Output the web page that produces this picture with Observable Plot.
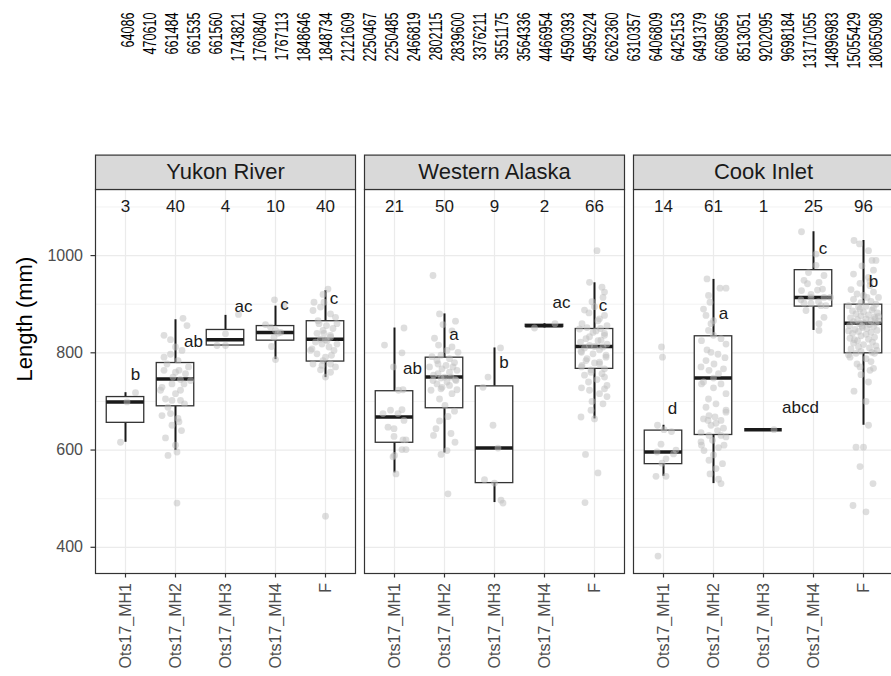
<!DOCTYPE html>
<html><head><meta charset="utf-8">
<script src="https://cdn.jsdelivr.net/npm/d3@7"></script>
<script src="https://cdn.jsdelivr.net/npm/@observablehq/plot@0.6"></script>
<style>
body{margin:0;background:#fff;font-family:"Liberation Sans",Arial,sans-serif;}
#wrap{width:891px;height:676px;overflow:hidden;}
#wrap svg{display:block;max-width:none !important;}
</style></head><body><div id="wrap"></div>
<script>
// ---- data ----
const topLabels = ["64086","470610","661484","661535","661560","1743821","1760840","1767113","1848646","1848734","2121609","2250467","2250485","2466819","2802115","2839600","3376211","3551175","3564336","4466954","4590393","4959224","6262360","6310357","6406809","6425153","6491379","6608956","8513051","9202095","9698184","13171055","14896983","15055429","18065098"];
const regions = ["Yukon River", "Western Alaska", "Cook Inlet"];
const groups = ["Ots17_MH1", "Ots17_MH2", "Ots17_MH3", "Ots17_MH4", "F"];
const yTicks = [400, 600, 800, 1000];
const yMinorTicks = [500, 700, 900, 1100];
const yLabel = "Length (mm)";
// box statistics, order: region x group
const boxLow    = [616, 599, 815, 786, 749,  553, 594, 492, 851,    664,  546, 531, 642, 846, 651];
const boxQ1     = [656, 690, 815, 825, 782,  615, 686, 532, 853.25, 767,  571, 631, 642, 895, 799];
const boxMedian = [699, 746, 827, 842, 828,  668, 750, 604, 855.5,  813,  596, 748, 642, 914, 861];
const boxQ3     = [709, 779, 847, 855, 865,  721, 790, 731, 857.75, 849,  640, 834, 642, 970, 899];
const boxHigh   = [718, 868, 877, 896, 928,  851, 880, 810, 860,    944,  651, 951, 642, 1049, 1031];
const groupN      = [3, 40, 4, 10, 40,  21, 50, 9, 2, 66,  14, 61, 1, 25, 96];
const countY      = 1100;
const groupLetter = ["b","ab","ac","c","c",  "ab","a","b","ac","c",  "d","a","abcd","c","b"];
const letterY     = [755, 824, 895, 900, 911,  767, 837, 779, 904, 897,  686, 880, 687, 1015, 947];
const letterDx    = [0.2, 0.36, 0.36, 0.18, 0.17,  0.36, 0.19, 0.19, 0.34, 0.17,  0.18, 0.2, 0.74, 0.19, 0.2];

// jittered observations: [group index 1-5, length, jitter]
const yukonPoints = [
 [1,616,-0.1],[1,699,0.03],[1,718,0.2],
 [2,871,0.15],[2,856,0.23],[2,836,-0.23],[2,827,-0.1],[2,812,0],[2,805,0.13],[2,797,-0.1],[2,791,-0.23],[2,784,0.05],[2,777,-0.17],
 [2,771,0.26],[2,764,0.07],[2,764,-0.23],[2,757,0.2],[2,750,-0.05],[2,745,0.1],[2,743,0.3],[2,736,-0.07],[2,736,0.17],[2,729,-0.27],
 [2,723,0.1],[2,723,-0.3],[2,716,0],[2,705,-0.2],[2,702,-0.07],[2,702,0.1],[2,695,0.18],[2,688,-0.15],[2,675,-0.1],[2,671,-0.27],
 [2,665,0.05],[2,658,0.07],[2,651,-0.07],[2,640,0.12],[2,625,-0.2],[2,610,0],[2,596,0.03],[2,589,-0.15],[2,491,0.03],[2,760,0],
 [3,815,-0.17],[3,815,0],[3,839,0],[3,879,0.26],
 [4,909,-0.02],[4,896,0.17],[4,858,-0.2],[4,853,-0.1],[4,846,0],[4,842,0.1],[4,840,0.05],[4,832,-0.03],[4,813,-0.08],[4,786,0],
 [5,931,0.05],[5,920,-0.05],[5,904,-0.23],[5,904,-0.03],[5,894,-0.1],[5,887,-0.25],[5,880,0.1],[5,873,0.2],[5,866,-0.15],[5,860,-0.13],
 [5,860,0.23],[5,856,0.02],[5,850,0.15],[5,846,-0.05],[5,840,-0.17],[5,840,-0.03],[5,836,0.1],[5,832,0.1],[5,828,-0.1],[5,827,0],
 [5,825,0.03],[5,822,-0.2],[5,818,-0.07],[5,818,0.23],[5,812,0.07],[5,808,-0.27],[5,805,0.17],[5,805,-0.3],[5,798,-0.17],[5,795,0.12],
 [5,791,0],[5,784,-0.05],[5,777,-0.25],[5,777,0.1],[5,774,-0.07],[5,771,0.2],[5,765,-0.1],[5,760,0.1],[5,750,0],[5,464,0]
];
const westernPoints = [
 [1,851,0.19],[1,816,-0.2],[1,800,0.15],[1,771,-0.02],[1,724,0.17],[1,723,0.08],[1,683,0.15],[1,682,-0.08],[1,675,-0.23],[1,675,0.07],
 [1,661,0.19],[1,647,-0.13],[1,644,-0.01],[1,628,-0.01],[1,621,0.17],[1,621,0.23],[1,601,0.15],[1,601,0.23],[1,589,0],[1,586,-0.03],[1,551,0.03],
 [2,959,-0.23],[2,880,-0.1],[2,865,0.22],[2,858,-0.03],[2,845,0.15],[2,830,-0.2],[2,816,-0.12],[2,812,0.15],[2,805,0.05],[2,801,0.27],
 [2,795,-0.07],[2,792,-0.25],[2,788,0.1],[2,784,-0.15],[2,780,0.2],[2,777,-0.13],[2,774,0.03],[2,771,-0.3],[2,771,0.17],[2,767,-0.05],
 [2,764,0.25],[2,760,0.1],[2,757,-0.13],[2,754,-0.22],[2,750,0.13],[2,750,0],[2,748,-0.07],[2,745,0.22],[2,743,-0.23],[2,743,0.23],
 [2,740,0.05],[2,736,-0.15],[2,733,0.1],[2,729,-0.05],[2,726,-0.07],[2,724,0.25],[2,723,-0.27],[2,716,0.15],[2,705,-0.1],[2,692,0.01],
 [2,680,0.2],[2,669,0.07],[2,660,-0.1],[2,644,-0.17],[2,634,0.13],[2,630,-0.22],[2,616,0.21],[2,599,0.05],[2,591,-0.07],[2,510,0.07],
 [3,810,0.12],[3,750,-0.13],[3,729,-0.23],[3,651,-0.03],[3,604,0.07],[3,539,-0.2],[3,532,0],[3,497,0.13],[3,491,0.17],
 [4,851,-0.2],[4,860,0.21],
 [5,1010,0.05],[5,945,-0.1],[5,935,0.15],[5,925,0.2],[5,914,0.17],[5,905,-0.05],[5,895,0],[5,888,-0.2],[5,882,-0.11],[5,877,0.2],
 [5,870,0.1],[5,866,0.07],[5,860,-0.25],[5,856,0.25],[5,852,-0.15],[5,849,-0.3],[5,845,0.03],[5,842,-0.03],[5,840,0.2],[5,836,0.2],
 [5,833,-0.1],[5,829,-0.17],[5,826,0.13],[5,825,0.07],[5,822,-0.28],[5,818,0.25],[5,815,-0.1],[5,813,0],[5,812,0.17],[5,810,-0.2],
 [5,806,0.1],[5,803,-0.27],[5,801,-0.26],[5,798,-0.03],[5,795,0.23],[5,791,0.23],[5,788,-0.15],[5,784,-0.17],[5,781,0.1],[5,779,0],
 [5,777,0.1],[5,774,-0.25],[5,771,-0.26],[5,767,0.2],[5,765,-0.07],[5,760,-0.07],[5,757,0.15],[5,754,-0.2],[5,750,0.2],[5,745,0.05],
 [5,740,-0.12],[5,733,0.25],[5,728,-0.26],[5,726,0.2],[5,723,-0.1],[5,716,0.1],[5,710,0.25],[5,700,-0.05],[5,695,0.17],[5,682,-0.07],
 [5,668,-0.27],[5,664,0],[5,591,-0.18],[5,553,0.07],[5,492,-0.19],[5,850,0.12]
];
const cookPoints = [
 [1,812,-0.04],[1,791,-0.02],[1,651,-0.12],[1,642,0.01],[1,638,0.16],[1,612,-0.05],[1,600,0.25],[1,596,-0.13],[1,592,0.2],[1,582,0.05],
 [1,573,-0.03],[1,546,-0.15],[1,546,0.05],[1,382,-0.11],
 [2,952,-0.13],[2,933,0.13],[2,933,0.25],[2,918,-0.1],[2,904,-0.07],[2,890,-0.2],[2,877,-0.15],[2,866,0],[2,860,-0.05],[2,846,-0.1],
 [2,836,0],[2,829,0.15],[2,825,-0.24],[2,818,0.25],[2,806,-0.13],[2,801,-0.05],[2,797,0.09],[2,790,0.23],[2,784,-0.15],[2,777,0.01],
 [2,771,-0.25],[2,767,0.2],[2,764,-0.09],[2,757,0.1],[2,748,0],[2,740,-0.2],[2,736,-0.24],[2,736,0.15],[2,728,0],[2,716,0.25],
 [2,705,-0.1],[2,695,0.05],[2,688,-0.15],[2,682,0.25],[2,678,0.25],[2,671,-0.09],[2,668,0.03],[2,664,-0.2],[2,661,-0.11],[2,661,0.15],
 [2,655,0.05],[2,651,-0.05],[2,645,0.2],[2,640,0.08],[2,636,-0.25],[2,630,-0.09],[2,630,0.15],[2,627,0.25],[2,620,-0.02],[2,617,-0.25],
 [2,610,-0.24],[2,610,0.21],[2,605,0.1],[2,599,-0.19],[2,590,0],[2,579,-0.09],[2,572,0.18],[2,562,0.05],[2,551,-0.07],[2,540,0.1],[2,531,0.15],
 [3,642,0.21],
 [4,1049,-0.24],[4,1003,0.05],[4,980,0.05],[4,965,-0.1],[4,959,0.21],[4,949,-0.19],[4,945,0.11],[4,942,-0.12],[4,931,0.18],[4,929,0.08],
 [4,928,-0.24],[4,920,-0.05],[4,914,-0.05],[4,914,0.21],[4,914,0.34],[4,909,-0.25],[4,905,0.1],[4,902,-0.19],[4,901,-0.05],[4,897,0.15],
 [4,897,0.25],[4,887,-0.15],[4,873,0.21],[4,860,0.11],[4,846,0.11],
 [5,1031,-0.19],[5,1024,-0.08],[5,1010,0.1],[5,990,0.17],[5,990,0.25],[5,979,-0.03],[5,970,0.2],[5,962,-0.2],[5,955,0.1],[5,947,0.13],
 [5,943,-0.07],[5,938,0.13],[5,930,-0.25],[5,925,0.2],[5,921,-0.13],[5,918,0],[5,914,0.07],[5,914,0.3],[5,910,-0.2],[5,906,0.15],
 [5,903,-0.05],[5,900,0.25],[5,897,-0.3],[5,896,0.05],[5,894,-0.1],[5,892,0.2],[5,890,-0.07],[5,888,0.17],[5,886,-0.22],[5,884,0],
 [5,882,0.28],[5,880,-0.15],[5,878,0.1],[5,876,-0.05],[5,874,0.22],[5,872,-0.26],[5,870,0.05],[5,868,-0.12],[5,866,0.15],[5,864,-0.2],
 [5,862,0],[5,861,0.25],[5,860,-0.08],[5,858,0.12],[5,856,-0.28],[5,854,0.2],[5,852,-0.02],[5,850,0.07],[5,848,-0.17],[5,846,0.27],
 [5,844,-0.1],[5,842,0.15],[5,840,-0.22],[5,838,0.05],[5,835,-0.05],[5,832,0.22],[5,830,-0.27],[5,828,0.1],[5,825,-0.12],[5,822,0.18],
 [5,820,-0.2],[5,817,0],[5,814,0.25],[5,812,-0.1],[5,810,0.12],[5,808,-0.25],[5,805,0.27],[5,803,-0.05],[5,801,0.17],[5,799,-0.15],
 [5,799,0.22],[5,796,-0.3],[5,791,-0.27],[5,788,0.05],[5,782,0.15],[5,777,-0.13],[5,771,-0.07],[5,768,0.2],[5,764,0.13],[5,755,-0.05],
 [5,740,0.1],[5,721,-0.19],[5,700,0.05],[5,651,0.1],[5,606,-0.15],[5,606,0],[5,566,-0.07],[5,531,0.19],[5,486,-0.21],[5,473,0.05],
 [5,865,0.3],[5,845,-0.3],[5,875,0.3],[5,855,-0.03],[5,827,-0.18],[5,870,0.23]
];

// ---- tables built from the arrays ----
const boxes = regions.flatMap((region, ri) => groups.map((g, gi) => {
  const k = ri * groups.length + gi;
  return {region, gi: gi + 1, lo: boxLow[k], q1: boxQ1[k], med: boxMedian[k], q3: boxQ3[k], hi: boxHigh[k],
          n: String(groupN[k]), letter: groupLetter[k], ly: letterY[k], ldx: letterDx[k]};
}));
const points = [[regions[0], yukonPoints], [regions[1], westernPoints], [regions[2], cookPoints]]
  .flatMap(([region, arr]) => arr.map(([gi, len, jit]) => ({region, gi, len, jit})));

// ---- layout / style ----
const FONT = "'Liberation Sans', Arial, Helvetica, sans-serif";
const HALF = 0.375;
const stripH = 34.4;
const mainH = 522, mTop = 35, mBottom = 103;
const panelH = mainH - mTop - mBottom;

const topPlot = Plot.plot({
  width: 891, height: 154, marginTop: 12, marginBottom: 0, marginLeft: 123, marginRight: 11,
  style: {fontFamily: FONT, background: "white", overflow: "visible"},
  x: {type: "point", domain: topLabels, padding: 0, axis: null},
  y: {axis: null},
  marks: [
    Plot.text(topLabels, {x: d => d, text: d => d, frameAnchor: "top", lineAnchor: "middle", rotate: -90, textAnchor: "end", fontSize: 17.5, fill: "#000"})
  ]
});
d3.select(topPlot).selectAll("text").each(function() {
  const t = this.getAttribute("transform");
  if (t) this.setAttribute("transform", t + " scale(0.72,1)");
});

const mainPlot = Plot.plot({
  width: 900, height: mainH, marginTop: mTop, marginBottom: mBottom, marginLeft: 94, marginRight: 6.7,
  style: {fontFamily: FONT, background: "white", maxWidth: "none", overflow: "visible"},
  fx: {domain: regions, paddingInner: 0.0352, paddingOuter: 0, axis: null},
  x: {domain: [0.4, 5.6], axis: null},
  y: {domain: [346.1, 1135.9], axis: null},
  marks: [
    Plot.gridY(yMinorTicks, {stroke: "#ebebeb", strokeOpacity: 1, strokeWidth: 0.6}),
    Plot.gridY(yTicks, {stroke: "#ebebeb", strokeOpacity: 1, strokeWidth: 1.2}),
    Plot.gridX([1, 2, 3, 4, 5], {stroke: "#ebebeb", strokeOpacity: 1, strokeWidth: 1.2}),
    Plot.ruleX(boxes, {fx: "region", x: "gi", y1: "lo", y2: "q1", stroke: "#1a1a1a", strokeWidth: 2}),
    Plot.ruleX(boxes, {fx: "region", x: "gi", y1: "q3", y2: "hi", stroke: "#1a1a1a", strokeWidth: 2}),
    Plot.rect(boxes, {fx: "region", x1: d => d.gi - HALF, x2: d => d.gi + HALF, y1: "q1", y2: "q3", fill: "white", stroke: "#333333", strokeWidth: 1.3}),
    Plot.ruleY(boxes, {fx: "region", y: "med", x1: d => d.gi - HALF, x2: d => d.gi + HALF, stroke: "#1a1a1a", strokeWidth: 3.5}),
    Plot.dot(points, {fx: "region", x: d => d.gi + d.jit, y: "len", r: 3.4, fill: "#bdbdbd", fillOpacity: 0.5, stroke: "none"}),
    Plot.text(boxes, {fx: "region", x: "gi", y: () => countY, text: "n", fontSize: 17, fill: "#1a1a1a"}),
    Plot.text(boxes, {fx: "region", x: d => d.gi + d.ldx, y: "ly", text: "letter", fontSize: 17, fill: "#1a1a1a"}),
    Plot.frame({stroke: "#333333", strokeWidth: 1.2}),
    Plot.frame({fill: "#d9d9d9", stroke: "#333333", strokeWidth: 1.2, insetTop: -stripH, insetBottom: panelH}),
    Plot.text(regions, {fx: d => d, text: d => d, frameAnchor: "top", lineAnchor: "middle", dy: -stripH / 2, fontSize: 22, fill: "#1a1a1a"}),
    Plot.axisY({ticks: yTicks, tickFormat: d => String(d), tickSize: 4.5, tickPadding: 8, fontSize: 16, fill: "#4d4d4d", stroke: "#333333", strokeWidth: 1.2, label: null}),
    Plot.axisX({ticks: [1, 2, 3, 4, 5], tickFormat: i => groups[i - 1], tickRotate: -90, tickSize: 4.5, tickPadding: 5, fontSize: 16, fill: "#4d4d4d", stroke: "#333333", strokeWidth: 1.2, label: null}),
    Plot.text([yLabel], {fx: () => regions[0], text: d => d, frameAnchor: "left", dx: -71, rotate: -90, fontSize: 22, fill: "#000"})
  ]
});

const wrap = document.getElementById("wrap");
wrap.appendChild(topPlot);
wrap.appendChild(mainPlot);
</script></body></html>
